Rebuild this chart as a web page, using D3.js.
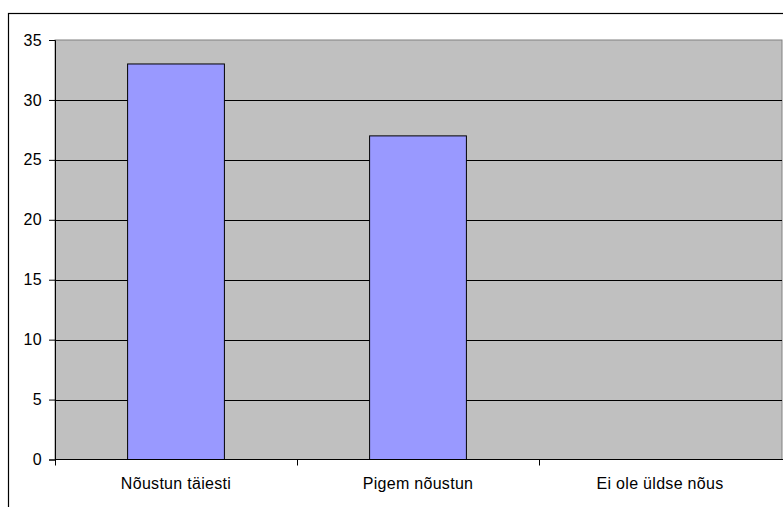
<!DOCTYPE html>
<html>
<head>
<meta charset="utf-8">
<script src="https://cdn.jsdelivr.net/npm/d3@7"></script>
<style>
  html, body { margin: 0; padding: 0; background: #fff; }
  svg { display: block; }
  text { font-family: Arial, "Liberation Sans", sans-serif; fill: #000; }
</style>
</head>
<body>
<svg id="chart" width="783" height="507"></svg>
<script>
// Survey answers and their counts
const categories = ["Nõustun täiesti", "Pigem nõustun", "Ei ole üldse nõus"];
const values = [33, 27, 0];
const yTicks = [0, 5, 10, 15, 20, 25, 30, 35];

const W = 783, H = 507;
const plot = { left: 55, top: 40, right: 782, bottom: 459.5 };
const fontSize = 16, spacing = "0.3px";

const svg = d3.select("#chart");

// Outer frame of the chart object
svg.append("rect")
  .attr("x", 8.5).attr("y", 13.5)
  .attr("width", W + 10).attr("height", H + 10)
  .attr("fill", "#fff").attr("stroke", "#000").attr("stroke-width", 1.2);

const x = d3.scaleBand()
  .domain(categories)
  .range([plot.left, plot.left + 726])
  .paddingInner(0.6).paddingOuter(0.3);

const y = d3.scaleLinear()
  .domain([0, 35])
  .range([plot.bottom, plot.top]);

// Plot area background
svg.append("rect")
  .attr("x", plot.left).attr("y", plot.top)
  .attr("width", plot.right - plot.left).attr("height", plot.bottom - plot.top)
  .attr("fill", "#c0c0c0")
  .attr("stroke", "#808080").attr("stroke-width", 1);

// Horizontal gridlines
svg.append("g")
  .selectAll("line")
  .data(yTicks.filter(d => d > 0 && d < 35))
  .join("line")
  .attr("x1", plot.left).attr("x2", plot.right)
  .attr("y1", d => Math.round(y(d)) + 0.5).attr("y2", d => Math.round(y(d)) + 0.5)
  .attr("stroke", "#000").attr("stroke-width", 1);

// Bars
svg.append("g")
  .selectAll("rect")
  .data(categories.map((c, i) => ({ c, v: values[i] })))
  .join("rect")
  .attr("x", d => x(d.c))
  .attr("y", d => y(d.v))
  .attr("width", x.bandwidth())
  .attr("height", d => plot.bottom - y(d.v))
  .attr("fill", "#9999ff")
  .attr("stroke", "#000").attr("stroke-width", 1)
  .attr("display", d => d.v > 0 ? null : "none");

// Y axis
const yAxis = d3.axisLeft(y).tickValues(yTicks).tickSize(6).tickPadding(7);
const gy = svg.append("g")
  .attr("transform", `translate(${plot.left},0)`)
  .call(yAxis);
gy.select(".domain").attr("stroke", "#000");
gy.selectAll(".tick line").attr("stroke", "#000");
gy.selectAll(".tick text")
  .attr("font-size", fontSize).attr("letter-spacing", spacing)
  .attr("font-family", "Arial, 'Liberation Sans', sans-serif");

// X axis: ticks sit on the inner category boundaries
const step = x.step();
const boundaries = d3.range(categories.length).map(i => plot.left + i * step);
const gx = svg.append("g");
gx.append("line")
  .attr("x1", plot.left).attr("x2", W)
  .attr("y1", plot.bottom).attr("y2", plot.bottom)
  .attr("stroke", "#000").attr("stroke-width", 1.2);
gx.selectAll("line.tick")
  .data(boundaries)
  .join("line")
  .attr("class", "tick")
  .attr("x1", d => Math.round(d) + 0.5).attr("x2", d => Math.round(d) + 0.5)
  .attr("y1", plot.bottom).attr("y2", plot.bottom + 6)
  .attr("stroke", "#000");
gx.selectAll("text")
  .data(categories)
  .join("text")
  .attr("x", d => x(d) + x.bandwidth() / 2)
  .attr("y", 489)
  .attr("text-anchor", "middle")
  .attr("font-size", fontSize).attr("letter-spacing", spacing)
  .text(d => d);
</script>
</body>
</html>
